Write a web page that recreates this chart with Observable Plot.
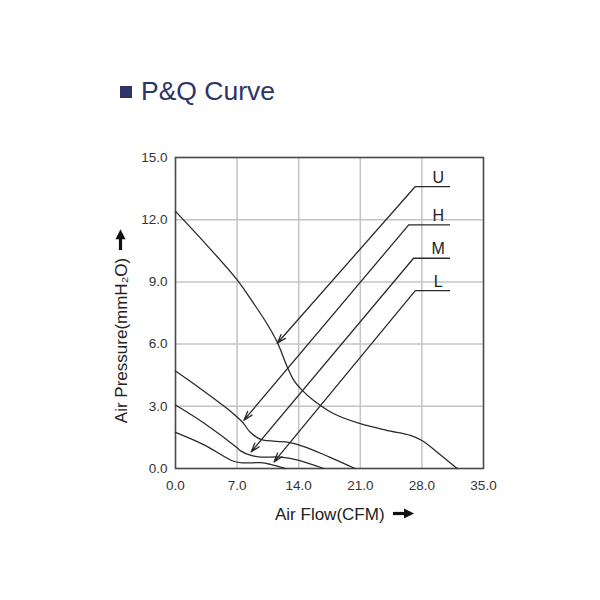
<!DOCTYPE html>
<html>
<head>
<meta charset="utf-8">
<script src="https://cdn.jsdelivr.net/npm/d3@7"></script>
<script src="https://cdn.jsdelivr.net/npm/@observablehq/plot@0.6"></script>
<style>
  body { margin: 0; background: #fff; }
  #wrap { position: relative; width: 600px; height: 600px; font-family: "Liberation Sans", Arial, sans-serif; }
  #title { position: absolute; left: 120px; top: 76px; font-size: 26.5px; color: #2e3368; white-space: nowrap; }
  #title .sq { display: inline-block; width: 12px; height: 12px; background: #2e3368; margin-right: 9px; vertical-align: 2px; }
  #xlabel { position: absolute; left: 275px; top: 505px; font-size: 17px; color: #222; white-space: nowrap; }
  #ylabel { position: absolute; left: 122px; top: 326px; font-size: 17px; color: #222; white-space: nowrap;
            transform: translate(-50%, -50%) rotate(-90deg); }
  .arr { display: inline-block; margin-left: 8px; vertical-align: 1px; }
</style>
</head>
<body>
<div id="wrap">
  <div id="chart"></div>
  <div id="title"><span class="sq"></span>P&amp;Q Curve</div>
  <div id="xlabel">Air Flow(CFM)<svg class="arr" width="21" height="11" viewBox="0 0 21 11"><path d="M0 5.5H13" stroke="#111" stroke-width="3.2"/><path d="M11 0.5L21 5.5L11 10.5Z" fill="#111"/></svg></div>
  <div id="ylabel">Air Pressure(mmH₂O)<svg class="arr" width="21" height="11" viewBox="0 0 21 11"><path d="M0 5.5H13" stroke="#111" stroke-width="3.2"/><path d="M11 0.5L21 5.5L11 10.5Z" fill="#111"/></svg></div>
</div>
<script>
const xTicks = [0, 7, 14, 21, 28, 35];
const yTicks = [0, 3, 6, 9, 12, 15];

const uX = [0, 3.5, 7, 8.9, 10.4, 11.55, 12.7, 13.45, 14.4, 15.7, 18, 21, 24, 26.7, 28, 29.7, 32];
const uY = [12.4, 10.8, 9.1, 7.95, 6.98, 6.1, 4.9, 4.25, 3.77, 3.28, 2.64, 2.16, 1.84, 1.6, 1.35, 0.8, 0];

const hX = [0, 3, 5.9, 7, 7.6, 8.5, 9.7, 12.7, 14.6, 17.5, 20.4];
const hY = [4.7, 3.8, 2.88, 2.48, 2.24, 1.75, 1.4, 1.27, 1.06, 0.55, 0];

const mX = [0, 3.3, 7, 7.4, 8.5, 9.7, 11.9, 13.8, 16.85];
const mY = [3.06, 2.17, 1.0, 0.85, 0.64, 0.55, 0.55, 0.42, 0];

const lX = [0, 3.3, 6.6, 7.8, 9.7, 10.8, 12.5];
const lY = [1.74, 1.13, 0.35, 0.27, 0.28, 0.2, 0];

const labels = ["U", "H", "M", "L"];
const labelY = [13.6, 11.75, 10.14, 8.58];
const labelX = [29.85, 29.85, 29.85, 29.85];
const elbowX = [27.25, 26.5, 27.05, 27.25];
const endX = [31.2, 31.2, 31.2, 31.2];
const tipX = [11.56, 7.78, 8.6, 11.2];
const tipY = [6.04, 2.33, 0.8, 0.32];

const toPts = (xs, ys) => xs.map((x, i) => ({x, y: ys[i]}));
const curves = [toPts(uX, uY), toPts(hX, hY), toPts(mX, mY), toPts(lX, lY)];
const leaders = labels.map((name, i) => ({
  name, ly: labelY[i], lx: labelX[i], ex: elbowX[i], end: endX[i], tx: tipX[i], ty: tipY[i]
}));

const chart = Plot.plot({
  width: 600,
  height: 600,
  marginLeft: 175,
  marginRight: 117,
  marginTop: 157,
  marginBottom: 132,
  x: {domain: [0, 35]},
  y: {domain: [0, 15]},
  style: {fontFamily: "'Liberation Sans', Arial, sans-serif", fontSize: "13.5px", color: "#333", background: "#fff"},
  marks: [
    Plot.gridX(xTicks, {stroke: "#c4c4c4", strokeOpacity: 1, strokeWidth: 1.5}),
    Plot.gridY(yTicks, {stroke: "#c4c4c4", strokeOpacity: 1, strokeWidth: 1.5}),
    Plot.frame({stroke: "#4a4a4a", strokeWidth: 1.5}),
    Plot.axisX(xTicks, {tickSize: 0, tickPadding: 12, label: null, tickFormat: d => d.toFixed(1)}),
    Plot.axisY(yTicks, {tickSize: 0, tickPadding: 8, label: null, tickFormat: d => d.toFixed(1)}),
    ...curves.map(c => Plot.line(c, {x: "x", y: "y", curve: "catmull-rom", stroke: "#2a2a2a", strokeWidth: 1.3})),
    Plot.link(leaders, {x1: "ex", x2: "end", y1: "ly", y2: "ly", stroke: "#2a2a2a", strokeWidth: 1.3}),
    Plot.arrow(leaders, {x1: "ex", y1: "ly", x2: "tx", y2: "ty", stroke: "#2a2a2a", strokeWidth: 1.3, headLength: 11, headAngle: 35}),
    Plot.text(leaders, {x: "lx", y: "ly", text: "name", dy: -9, fontSize: 16, fill: "#222"})
  ]
});
document.getElementById("chart").appendChild(chart);
</script>
</body>
</html>
